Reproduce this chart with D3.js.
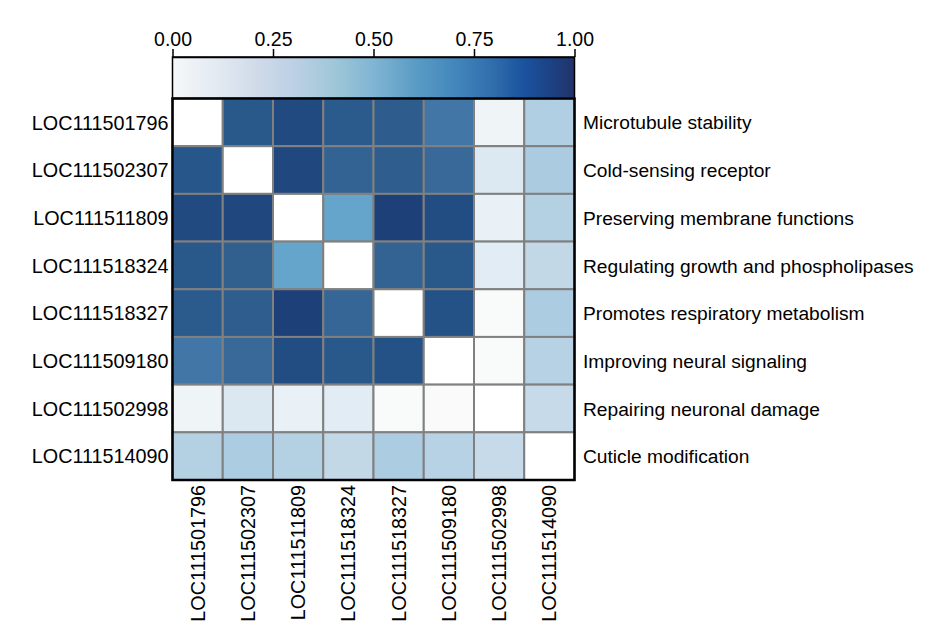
<!DOCTYPE html>
<html>
<head>
<meta charset="utf-8">
<script src="https://cdn.jsdelivr.net/npm/d3@7"></script>
<style>
  body { margin: 0; background: #fff; }
  text { font-family: "Liberation Sans", Arial, sans-serif; fill: #000; }
</style>
</head>
<body>
<div class="chart"></div>
<script>
const genes = ["LOC111501796", "LOC111502307", "LOC111511809", "LOC111518324",
               "LOC111518327", "LOC111509180", "LOC111502998", "LOC111514090"]
const functions = ["Microtubule stability", "Cold-sensing receptor", "Preserving membrane functions",
                   "Regulating growth and phospholipases", "Promotes respiratory metabolism",
                   "Improving neural signaling", "Repairing neuronal damage", "Cuticle modification"]

// correlation matrix, one row per gene (diagonal left blank)
const rowLOC111501796 = [null, 0.86, 0.92, 0.85, 0.84, 0.75, 0.05, 0.33]
const rowLOC111502307 = [0.87, null, 0.93, 0.81, 0.83, 0.79, 0.12, 0.36]
const rowLOC111511809 = [0.92, 0.93, null, 0.60, 0.96, 0.91, 0.07, 0.32]
const rowLOC111518324 = [0.86, 0.82, 0.60, null, 0.81, 0.86, 0.10, 0.26]
const rowLOC111518327 = [0.85, 0.83, 0.96, 0.80, null, 0.89, 0.01, 0.35]
const rowLOC111509180 = [0.75, 0.79, 0.91, 0.86, 0.89, null, 0.01, 0.31]
const rowLOC111502998 = [0.05, 0.13, 0.07, 0.10, 0.01, 0.005, null, 0.24]
const rowLOC111514090 = [0.32, 0.35, 0.32, 0.26, 0.35, 0.31, 0.24, null]

const legendTicks = [0, 0.25, 0.5, 0.75, 1]

const matrix = [rowLOC111501796, rowLOC111502307, rowLOC111511809, rowLOC111518324,
                rowLOC111518327, rowLOC111509180, rowLOC111502998, rowLOC111514090]

const cells = []
matrix.forEach((row, i) => row.forEach((v, j) => cells.push({row: genes[i], col: genes[j], value: v})))

const width = 936, height = 640
const mLeft = 172.5, mRight = 574.5, mTop = 98.5, mBottom = 480, barTop = 57

const svg = d3.select('.chart').append('svg')
    .attr('width', width)
    .attr('height', height)

const xScale = d3.scaleBand().domain(genes).range([mLeft, mRight])
const yScale = d3.scaleBand().domain(genes).range([mTop, mBottom])

const color = d3.scaleLinear()
    .domain([0, 0.12, 0.25, 0.33, 0.45, 0.6, 0.75, 0.82, 0.87, 0.92, 0.96, 1])
    .range(["#fbfbfb", "#dde9f2", "#c5d9e8", "#b1cfe2", "#93bfd9", "#66a5cb",
            "#4276a6", "#31608f", "#27578a", "#214a80", "#1e4078", "#22356b"])

// colour bar
const legendColors = ["#f6f8fa", "#e4ebf3", "#d2dcea", "#bdd0e5", "#a0c7d9", "#80b5d3",
                      "#5c9dc6", "#4388bd", "#2f6cab", "#1b54a0", "#1c4489", "#22336a"]
const legendOffsets = [0, 0.1, 0.2, 0.3, 0.4, 0.5, 0.6, 0.7, 0.8, 0.87, 0.93, 1]

const grad = svg.append('defs').append('linearGradient').attr('id', 'bar')
grad.selectAll('stop')
    .data(legendColors)
    .enter()
    .append('stop')
    .attr('offset', (d, i) => legendOffsets[i])
    .attr('stop-color', d => d)

const barScale = d3.scaleLinear().domain([0, 1]).range([mLeft, mRight])

svg.append('rect')
    .attr('x', mLeft)
    .attr('y', barTop)
    .attr('width', mRight - mLeft)
    .attr('height', mTop - barTop)
    .attr('fill', 'url(#bar)')
    .attr('stroke', '#000')
    .attr('stroke-width', 1.5)

const barAxis = d3.axisTop(barScale)
    .tickValues(legendTicks)
    .tickFormat(d3.format('.2f'))
    .tickSize(8)
    .tickSizeOuter(0)

svg.append('g')
    .attr('class', 'axis bar-axis')
    .attr('transform', `translate(0,${barTop})`)
    .call(barAxis)
    .call(g => g.selectAll('line, path').attr('stroke', '#000').attr('stroke-width', 1.5))
    .call(g => g.selectAll('text').style('font-size', '19.5px').attr('fill', '#000'))

// heatmap cells
svg.selectAll('.cell')
    .data(cells)
    .enter()
    .append('rect')
    .attr('class', 'cell')
    .attr('x', d => xScale(d.col))
    .attr('y', d => yScale(d.row))
    .attr('width', xScale.bandwidth())
    .attr('height', yScale.bandwidth())
    .attr('fill', d => d.value == null ? '#ffffff' : color(d.value))
    .attr('stroke', '#808080')
    .attr('stroke-width', 2)

svg.append('rect')
    .attr('x', mLeft)
    .attr('y', mTop)
    .attr('width', mRight - mLeft)
    .attr('height', mBottom - mTop)
    .attr('fill', 'none')
    .attr('stroke', '#000')
    .attr('stroke-width', 2.5)

// labels
svg.selectAll('.rowLabel')
    .data(genes)
    .enter()
    .append('text')
    .attr('class', 'rowLabel')
    .attr('x', mLeft - 4)
    .attr('y', d => yScale(d) + yScale.bandwidth() / 2)
    .attr('dy', '0.37em')
    .style('text-anchor', 'end')
    .style('font-size', '19.8px')
    .text(d => d)

svg.selectAll('.funcLabel')
    .data(functions)
    .enter()
    .append('text')
    .attr('class', 'funcLabel')
    .attr('x', mRight + 8.5)
    .attr('y', (d, i) => yScale(genes[i]) + yScale.bandwidth() / 2)
    .attr('dy', '0.37em')
    .style('font-size', '19.2px')
    .text(d => d)

svg.selectAll('.colLabel')
    .data(genes)
    .enter()
    .append('text')
    .attr('class', 'colLabel')
    .attr('transform', d => `translate(${xScale(d) + xScale.bandwidth() / 2},${mBottom + 5}) rotate(-90)`)
    .attr('dy', '0.35em')
    .style('text-anchor', 'end')
    .style('font-size', '19.8px')
    .text(d => d)
</script>
</body>
</html>
